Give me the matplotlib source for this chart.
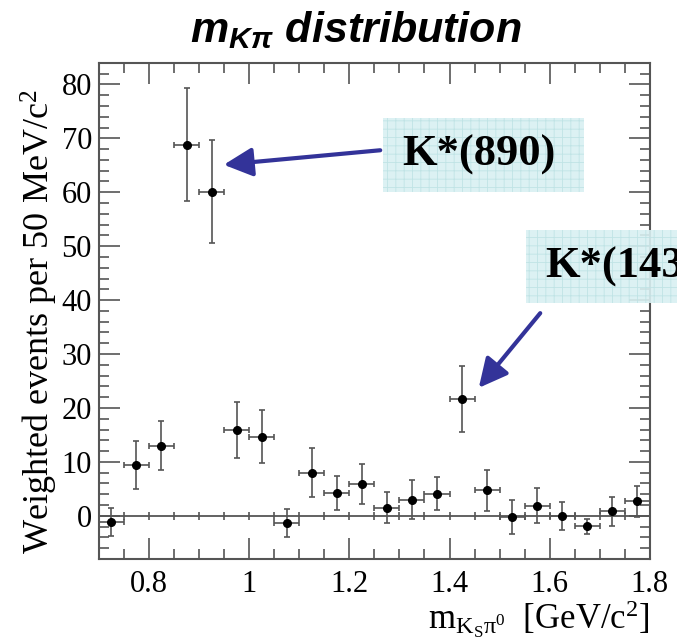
import matplotlib
matplotlib.use("Agg")
import matplotlib.pyplot as plt
import numpy as np
from matplotlib.patches import Rectangle
from matplotlib.ticker import MultipleLocator

# K_S pi0 mass bins (GeV/c^2) and weighted yields
mass = [0.725, 0.775, 0.825, 0.875, 0.925, 0.975, 1.025, 1.075, 1.125, 1.175, 1.225,
        1.275, 1.325, 1.375, 1.425, 1.475, 1.525, 1.575, 1.625, 1.675, 1.725, 1.775]
events = [-1.2, 9.4, 13.0, 68.8, 60.1, 15.9, 14.7, -1.4, 8.0, 4.2, 5.9,
          1.5, 3.0, 4.1, 21.6, 4.7, -0.2, 1.9, -0.1, -1.9, 0.8, 2.7]
errors = [2.6, 4.5, 4.5, 10.5, 9.5, 5.2, 4.9, 2.6, 4.5, 3.2, 3.8,
          2.9, 3.6, 3.1, 6.1, 3.8, 3.2, 3.2, 2.6, 1.4, 2.6, 2.9]
bin_half = 0.025

plt.rcParams["mathtext.fontset"] = "custom"
plt.rcParams["mathtext.rm"] = "Liberation Serif"
plt.rcParams["mathtext.it"] = "Liberation Serif:italic"
plt.rcParams["mathtext.bf"] = "Liberation Sans:bold:italic"
plt.rcParams["hatch.linewidth"] = 0.6

fig = plt.figure(figsize=(6.77, 6.41), dpi=100)
ax = fig.add_axes([0.146, 0.128, 0.814, 0.774])

ax.errorbar(mass, events, yerr=errors, xerr=bin_half, fmt="o", color="black",
            ms=5.5, ecolor="#555555", elinewidth=1.2, capsize=2.5, capthick=1.2)

# zero line with small ticks
ax.axhline(0, color="#555555", lw=1.3, zorder=0)
zt = np.arange(0.75, 1.8, 0.05)
ax.plot(zt, np.zeros(len(zt)), ls="none", marker="|", ms=6, color="#555555", mew=1.2, zorder=0)

ax.set_xlim(0.7, 1.8)
ax.set_ylim(-8, 84)
ax.xaxis.set_major_locator(MultipleLocator(0.2))
ax.xaxis.set_minor_locator(MultipleLocator(0.05))
ax.yaxis.set_major_locator(MultipleLocator(10))
ax.yaxis.set_minor_locator(MultipleLocator(2))
ax.set_xticks([0.8, 1.0, 1.2, 1.4, 1.6, 1.8])
ax.set_xticklabels(["0.8", "1", "1.2", "1.4", "1.6", "1.8"])
ax.tick_params(which="both", direction="in", top=True, right=True, color="#555555", width=1.2)
ax.tick_params(which="major", length=15)
ax.tick_params(which="minor", length=7)
for lab in ax.get_xticklabels() + ax.get_yticklabels():
    lab.set_family("Liberation Serif")
    lab.set_fontsize(22)
ax.tick_params(axis="x", pad=8)
ax.tick_params(axis="y", pad=5)
for s in ax.spines.values():
    s.set_color("#555555")
    s.set_linewidth(1.5)

ax.set_ylabel("Weighted events per 50 MeV/c$^2$", family="Liberation Serif", fontsize=26)
ax.yaxis.set_label_coords(-0.07, 0.478)
ax.set_xlabel(r"m$_{\mathrm{K_S}\mathrm{\pi^0}}$  [GeV/c$^2$]", family="Liberation Serif",
              fontsize=25, loc="right", labelpad=0)

fig.text(0.525, 0.953, r"$\mathbf{m_{K\pi}}$ distribution", ha="center", va="center",
         fontsize=31, family="Liberation Sans", weight="bold", style="italic")

# annotation boxes
def label_box(x0, y0, w, h, text):
    fig.patches.append(Rectangle((x0 / 677, 1 - (y0 + h) / 641), w / 677, h / 641,
                                 transform=fig.transFigure, facecolor="#d9f0f2",
                                 edgecolor="#bde2e4", linewidth=0, hatch="++",
                                 alpha=0.9, zorder=5))
    fig.text((x0 + 19) / 677, 1 - (y0 + h / 2) / 641, text, ha="left", va="center",
             family="Liberation Serif", weight="bold", fontsize=32, zorder=6)

label_box(383, 118, 201, 74, "K*(890)")
label_box(526, 230, 200, 73, "K*(1430)")

arrow = dict(arrowstyle="-|>,head_length=0.7,head_width=0.35", color="#333399", lw=3, mutation_scale=25)
ax.annotate("", xy=(221 / 677, 1 - 165 / 641), xytext=(383 / 677, 1 - 150 / 641),
            xycoords="figure fraction", textcoords="figure fraction", arrowprops=arrow)
ax.annotate("", xy=(477 / 677, 1 - 390 / 641), xytext=(542 / 677, 1 - 311 / 641),
            xycoords="figure fraction", textcoords="figure fraction", arrowprops=arrow)

fig.savefig("out.png", dpi=100)
